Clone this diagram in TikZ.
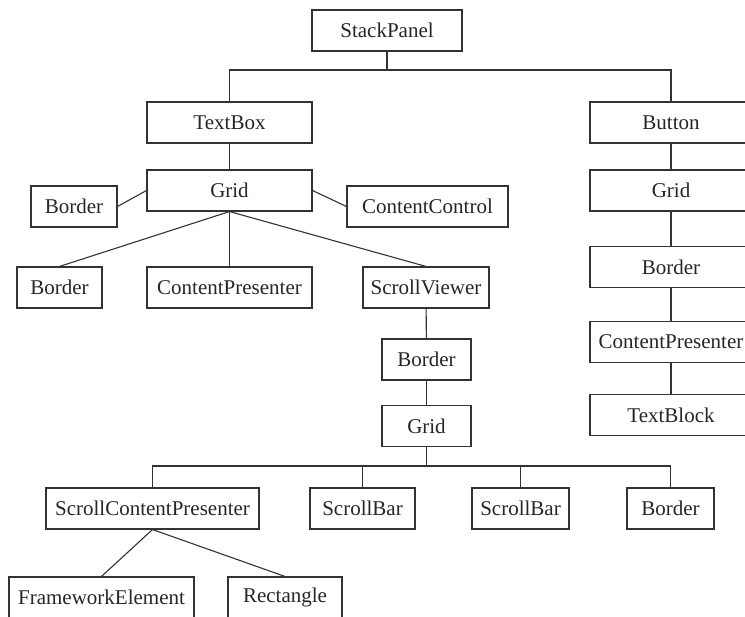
\documentclass[tikz,border=0pt]{standalone}
\usepackage{fontspec}
\setmainfont{Liberation Serif}
\usepackage{tikz}
\usetikzlibrary{positioning}

\begin{document}
\begin{tikzpicture}[
  x=1pt, y=-1pt,
  every node/.style={font=\fontsize{21}{25}\selectfont, text=black!85},
  box/.style = {draw=black!80, line width=1.1pt, inner sep=0pt, minimum height=41pt},
  link/.style = {draw=black!80, line width=1.1pt}
  ]
	\clip (0,0) rectangle (745,617);
	\fill[white] (0,0) rectangle (745,617);

	\node[box, minimum width=150pt] (stack) at (387,30.5) {StackPanel};
	\node[box, minimum width=165pt] (textbox) at (229.5,122.5) {TextBox};
	\node[box, minimum width=162pt] (button) at (671,122.5) {Button};

	\node[box, minimum width=165pt] (grid) at (229.5,190.5) {Grid};
	\node[box, minimum width=86pt] (gborder) at (74,206.5) {Border};
	\node[box, minimum width=161pt] (gcontrol) at (427.5,206.5) {ContentControl};
	\node[box, minimum width=85pt] (border) at (59.5,287.5) {Border};
	\node[box, minimum width=165pt] (presenter) at (229.5,287.5) {ContentPresenter};
	\node[box, minimum width=126pt] (viewer) at (426,287.5) {ScrollViewer};

	\node[box, minimum width=162pt] (bgrid) at (671,190.5) {Grid};
	\node[box, minimum width=162pt] (bborder) at (671,267) {Border};
	\node[box, minimum width=162pt] (bpresenter) at (671,342) {ContentPresenter};
	\node[box, minimum width=162pt] (textblock) at (671,415) {TextBlock};

	\node[box, minimum width=89pt] (vborder) at (426.5,359.5) {Border};
	\node[box, minimum width=89pt] (vgrid) at (426.5,426) {Grid};

	\node[box, minimum width=213pt] (scp) at (152.5,508.5) {ScrollContentPresenter};
	\node[box, minimum width=105pt] (bar1) at (362.5,508.5) {ScrollBar};
	\node[box, minimum width=97pt] (bar2) at (520.5,508.5) {ScrollBar};
	\node[box, minimum width=87pt] (vborder2) at (670.5,508.5) {Border};

	\node[box, minimum width=185pt] (element) at (101.5,597.5) {FrameworkElement};
	\node[box, minimum width=114pt] (rect) at (285,597.5) {Rectangle};

	\coordinate (@top) at (387,70);
	\coordinate (@bar) at (426.5,466);

	\draw[link] (stack.south) -- (@top) -| (textbox.north);
	\draw[link] (@top) -| (button.north);
	\draw[link] (textbox) -- (grid);
	\draw[link] (gborder.east) -- (grid.west);
	\draw[link] (grid.east) -- (gcontrol.west);
	\draw[link] (grid.south) -- (border.north);
	\draw[link] (grid.south) -- (presenter.north);
	\draw[link] (grid.south) -- (viewer.north);

	\draw[link] (button) -- (bgrid);
	\draw[link] (bgrid) -- (bborder);
	\draw[link] (bborder) -- (bpresenter);
	\draw[link] (bpresenter) -- (textblock);

	\draw[link] (viewer) -- (vborder);
	\draw[link] (vborder) -- (vgrid);
	\draw[link] (vgrid.south) -- (@bar) -| (scp.north);
	\draw[link] (@bar) -| (vborder2.north);
	\draw[link] (bar1.north) |- (@bar);
	\draw[link] (bar2.north) |- (@bar);

	\draw[link] (scp.south) -- (element.north);
	\draw[link] (scp.south) -- (rect.north);

\end{tikzpicture}
\end{document}
